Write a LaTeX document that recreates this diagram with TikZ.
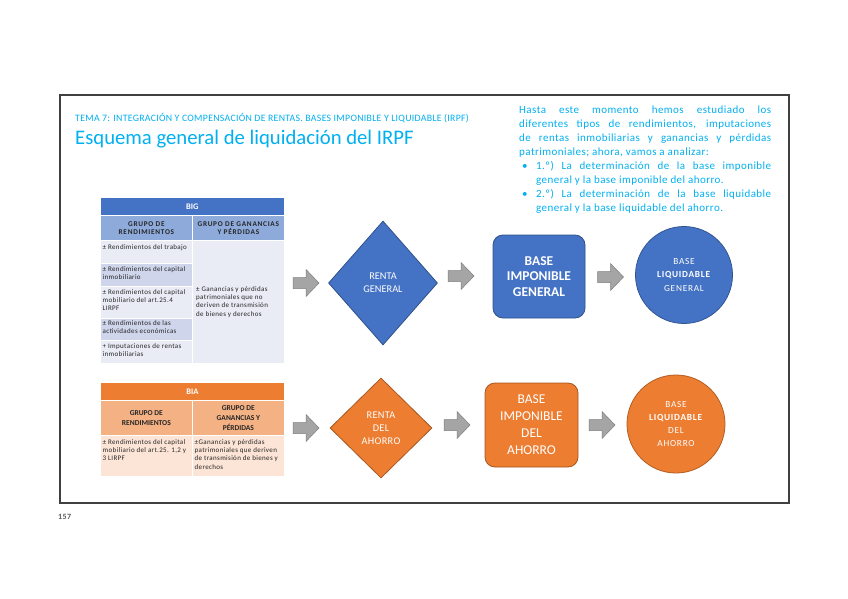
\documentclass[tikz,border=0pt]{standalone}
\usepackage{fontspec}
\setmainfont{Carlito}
\usetikzlibrary{shapes.geometric}
\definecolor{cyanT}{HTML}{00B0F0}
\definecolor{blueM}{HTML}{4472C4}
\definecolor{blueL}{HTML}{8EAADB}
\definecolor{blueRa}{HTML}{E9EBF5}
\definecolor{blueRb}{HTML}{CFD5EA}
\definecolor{orM}{HTML}{ED7D31}
\definecolor{orL}{HTML}{F4B183}
\definecolor{orR}{HTML}{FCE4D6}
\definecolor{grA}{HTML}{A5A5A5}
\definecolor{grD}{HTML}{7F7F7F}
\definecolor{txtD}{HTML}{262626}
\newcommand{\ls}[1]{\addfontfeature{LetterSpace=#1}}
\tikzset{
  cell/.style={draw=white, line width=0.8pt, inner sep=0pt, anchor=north west, align=center},
  hdr/.style={font=\bfseries\fontsize{8.5}{9}\selectfont, text=white},
  subB/.style={font=\bfseries\fontsize{7.3}{8.5}\selectfont\ls{10}, text=txtD},
  subO/.style={font=\bfseries\fontsize{7.5}{10}\selectfont, text=txtD},
  celltxt/.style={anchor=north west, inner sep=0pt, align=left, font=\fontsize{7}{8.4}\selectfont\ls{5}, text=txtD},
  blockarrow/.pic={\draw[fill=grA, draw=grD, line width=0.5pt] (-13,-5.5) -- (0,-5.5) -- (0,-13.5) -- (13,0) -- (0,13.5) -- (0,5.5) -- (-13,5.5) -- cycle;},
  diam/.style={diamond, inner sep=0pt, draw=#1!70!black, fill=#1, line width=0.8pt, text=white, align=center},
  rbox/.style={rectangle, rounded corners=10pt, inner sep=0pt, draw=#1!70!black, fill=#1, line width=0.8pt, text=white, align=center},
  circ/.style={circle, inner sep=0pt, draw=#1!75!black, fill=#1, line width=0.8pt, text=white, align=center},
}
\begin{document}
\begin{tikzpicture}[x=1pt,y=-1pt]
\useasboundingbox[fill=white] (0,0) rectangle (848,599);
% frame
\draw[draw=black!75, line width=1.3pt] (60,95) rectangle (789,503);
\node[anchor=west, inner sep=0pt, font=\bfseries\fontsize{8}{9}\selectfont\ls{5}, text=black!65] (pg) at (58,517) {157};
% titles
\node[anchor=west, inner sep=0pt, font=\fontsize{9.8}{11}\selectfont\ls{3}, text=cyanT] (tema) at (75,118) {TEMA 7: INTEGRACIÓN Y COMPENSACIÓN DE RENTAS. BASES IMPONIBLE Y LIQUIDABLE (IRPF)};
\node[anchor=west, inner sep=0pt, font=\fontsize{20.7}{24}\selectfont, text=cyanT] (titulo) at (75,139) {Esquema general de liquidación del IRPF};
% paragraph
\node[anchor=north west, inner sep=0pt, text width=252pt, align=justify, font=\fontsize{11}{14}\selectfont\ls{4}, text=cyanT] (intro) at (519,106) {Hasta este momento hemos estudiado los\linebreak diferentes tipos de rendimientos, imputaciones\linebreak de rentas inmobiliarias y ganancias y pérdidas\linebreak patrimoniales; ahora, vamos a analizar:\par
\noindent\hangindent=17pt\hangafter=1\makebox[17pt][l]{\hspace{3pt}•}1.º) La determinación de la base imponible\linebreak general y la base imponible del ahorro.\par
\noindent\hangindent=17pt\hangafter=1\makebox[17pt][l]{\hspace{3pt}•}2.º) La determinación de la base liquidable\linebreak general y la base liquidable del ahorro.\par};
% BIG table
\node[cell, fill=blueM, minimum width=184pt, minimum height=18pt, hdr] (bigH) at (100,197) {BIG};
\node[cell, fill=blueL, minimum width=92pt, minimum height=25pt, subB] (bigS1) at (100,215) {GRUPO DE\\RENDIMIENTOS};
\node[cell, fill=blueL, minimum width=92pt, minimum height=25pt, subB] (bigS2) at (192,215) {GRUPO DE GANANCIAS\\Y PÉRDIDAS};
\node[cell, fill=blueRa, minimum width=92pt, minimum height=23pt] (bigR1) at (100,240) {};
\node[cell, fill=blueRb, minimum width=92pt, minimum height=23pt] (bigR2) at (100,263) {};
\node[cell, fill=blueRa, minimum width=92pt, minimum height=32pt] (bigR3) at (100,286) {};
\node[cell, fill=blueRb, minimum width=92pt, minimum height=22pt] (bigR4) at (100,318) {};
\node[cell, fill=blueRa, minimum width=92pt, minimum height=23pt] (bigR5) at (100,340) {};
\node[cell, fill=blueRa, minimum width=92pt, minimum height=123pt] (bigC2) at (192,240) {};
\node[celltxt] (bigT1) at ([shift={(2.5,4)}]bigR1.north west) {± Rendimientos del trabajo};
\node[celltxt] (bigT2) at ([shift={(2.5,3)}]bigR2.north west) {± Rendimientos del capital\\inmobiliario};
\node[celltxt] (bigT3) at ([shift={(2.5,3)}]bigR3.north west) {± Rendimientos del capital\\mobiliario del art.25.4\\LIRPF};
\node[celltxt] (bigT4) at ([shift={(2.5,2.5)}]bigR4.north west) {± Rendimientos de las\\actividades económicas};
\node[celltxt] (bigT5) at ([shift={(2.5,3)}]bigR5.north west) {+ Imputaciones de rentas\\inmobiliarias};
\node[celltxt, anchor=west] (bigT6) at ([xshift=4pt]bigC2.west) {± Ganancias y pérdidas\\patrimoniales que no\\deriven de transmisión\\de bienes y derechos};
% BIA table
\node[cell, fill=orM, minimum width=184pt, minimum height=18pt, hdr] (biaH) at (100,382) {BIA};
\node[cell, fill=orL, minimum width=92pt, minimum height=35pt, subO] (biaS1) at (100,400) {GRUPO DE\\RENDIMIENTOS};
\node[cell, fill=orL, minimum width=92pt, minimum height=35pt, subO] (biaS2) at (192,400) {GRUPO DE\\GANANCIAS Y\\PÉRDIDAS};
\node[cell, fill=orR, minimum width=92pt, minimum height=41pt] (biaR1) at (100,435) {};
\node[cell, fill=orR, minimum width=92pt, minimum height=41pt] (biaR2) at (192,435) {};
\node[celltxt] (biaT1) at ([shift={(2.5,4)}]biaR1.north west) {± Rendimientos del capital\\mobiliario del art.25. 1,2 y\\3 LIRPF};
\node[celltxt] (biaT2) at ([shift={(2.5,4)}]biaR2.north west) {±Ganancias y pérdidas\\patrimoniales que deriven\\de transmisión de bienes y\\derechos};
% blue row
\node[diam=blueM, minimum width=109pt, minimum height=124pt, font=\fontsize{10.3}{13.3}\selectfont] (rg) at (383,283) {RENTA\\GENERAL};
\node[rbox=blueM, minimum width=92pt, minimum height=83pt, font=\bfseries\fontsize{13.5}{15.5}\selectfont] (big) at (539,276.5) {BASE\\IMPONIBLE\\GENERAL};
\node[circ=blueM, minimum size=97pt, font=\fontsize{9.3}{13.3}\selectfont\ls{8}] (blg) at (684,275) {BASE\\\textbf{LIQUIDABLE}\\GENERAL};
\pic at (306,283) {blockarrow};
\pic at (461,276) {blockarrow};
\pic at (610.5,277) {blockarrow};
% orange row
\node[diam=orM, minimum width=102pt, minimum height=100pt, font=\fontsize{10.3}{13}\selectfont\ls{3}] (ra) at (381,428) {RENTA\\DEL\\AHORRO};
\node[rbox=orM, minimum width=93pt, minimum height=84pt, font=\fontsize{13.5}{17}\selectfont] (bia) at (531.5,425) {BASE\\IMPONIBLE\\DEL\\AHORRO};
\node[circ=orM, minimum size=98pt, font=\fontsize{9.3}{13.3}\selectfont\ls{8}] (bla) at (676,424) {BASE\\\textbf{LIQUIDABLE}\\DEL\\AHORRO};
\pic at (306,428) {blockarrow};
\pic at (457,425) {blockarrow};
\pic at (602,425) {blockarrow};
\end{tikzpicture}
\end{document}
